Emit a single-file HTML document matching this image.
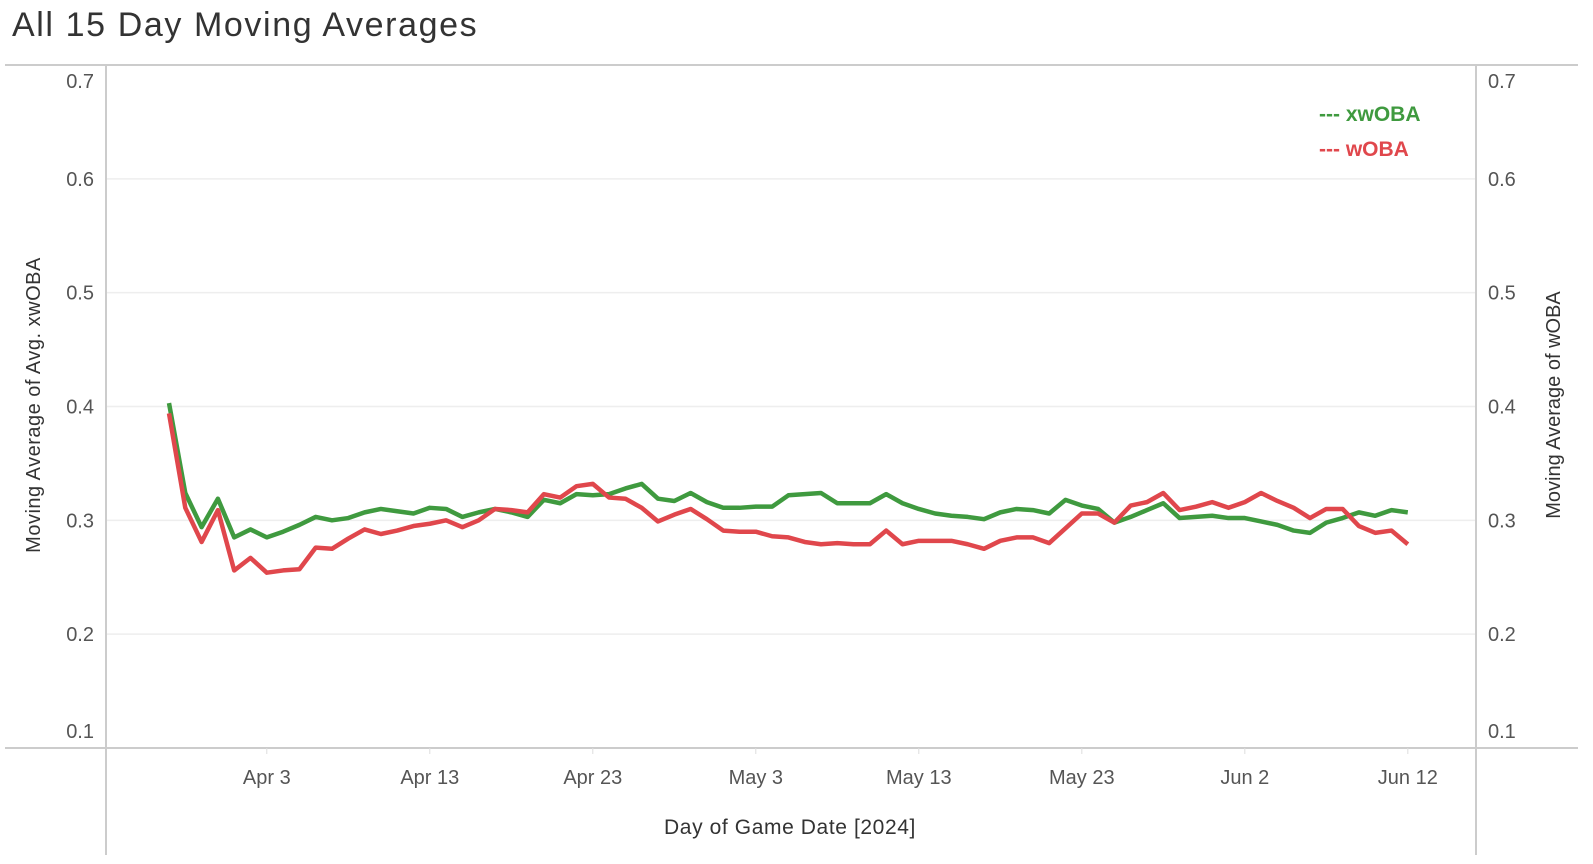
<!DOCTYPE html>
<html><head><meta charset="utf-8"><style>
body{margin:0;background:#fff;font-family:"Liberation Sans",sans-serif;}
svg text{font-family:"Liberation Sans",sans-serif;}
</style></head><body>
<svg id="chart" width="1593" height="859" xmlns="http://www.w3.org/2000/svg">
<text x="12" y="36" font-size="34" letter-spacing="1.6" fill="#333">All 15 Day Moving Averages</text>
<line x1="5" y1="65" x2="1578" y2="65" stroke="#ccc" stroke-width="2"/>
<line x1="5" y1="748" x2="1578" y2="748" stroke="#ccc" stroke-width="2"/>
<line x1="106" y1="65" x2="106" y2="855" stroke="#ccc" stroke-width="2"/>
<line x1="1476" y1="65" x2="1476" y2="855" stroke="#ccc" stroke-width="2"/>
<g id="grid"></g><g id="yl"></g><g id="yr"></g><g id="xt"></g>
<text x="790" y="834" font-size="21" letter-spacing="0.6" fill="#333" text-anchor="middle">Day of Game Date [2024]</text>
<text transform="translate(40,405) rotate(-90)" font-size="20" letter-spacing="0.5" fill="#333" text-anchor="middle">Moving Average of Avg. xwOBA</text>
<text transform="translate(1560,405) rotate(-90)" font-size="20" fill="#333" text-anchor="middle">Moving Average of wOBA</text>
<g id="lines"></g>
<text x="1319" y="121" font-size="21" font-weight="bold" fill="#3f9a3f">--- xwOBA</text>
<text x="1319" y="156" font-size="21" font-weight="bold" fill="#e0474c">--- wOBA</text>
</svg>
<script>
const days=[];for(let i=0;i<=76;i++)days.push(i);
const xwoba=[.403,.324,.294,.319,.285,.292,.285,.290,.296,.303,.300,.302,.307,.310,.308,.306,.311,.310,.303,.307,.310,.307,.303,.318,.315,.323,.322,.323,.328,.332,.319,.317,.324,.316,.311,.311,.312,.312,.322,.323,.324,.315,.315,.315,.323,.315,.310,.306,.304,.303,.301,.307,.310,.309,.306,.318,.313,.310,.298,.303,.309,.315,.302,.303,.304,.302,.302,.299,.296,.291,.289,.298,.302,.307,.304,.309,.307];
const woba=[.394,.311,.281,.309,.256,.267,.254,.256,.257,.276,.275,.284,.292,.288,.291,.295,.297,.300,.294,.300,.310,.309,.307,.323,.320,.330,.332,.320,.319,.311,.299,.305,.310,.301,.291,.290,.290,.286,.285,.281,.279,.280,.279,.279,.291,.279,.282,.282,.282,.279,.275,.282,.285,.285,.280,.293,.306,.306,.298,.313,.316,.324,.309,.312,.316,.311,.316,.324,.317,.311,.302,.310,.310,.295,.289,.291,.279];
const yTicks=[0.1,0.2,0.3,0.4,0.5,0.6,0.7];
const xTickDays=[6,16,26,36,46,56,66,76];
const xTickLabels=["Apr 3","Apr 13","Apr 23","May 3","May 13","May 23","Jun 2","Jun 12"];
const X=d=>169+d*16.3, Y=v=>748-(v-0.1)/0.6*683;
const NS="http://www.w3.org/2000/svg";
function mk(t,a,p){const e=document.createElementNS(NS,t);for(const k in a)e.setAttribute(k,a[k]);document.getElementById(p).appendChild(e);return e;}
yTicks.forEach(v=>{
 if(v>0.1&&v<0.7){const g=mk('line',{x1:107,x2:1475,y1:Y(v),y2:Y(v),stroke:'#eee','stroke-width':1.5},'grid');
 
 }
 let ty=Y(v)+7; if(v===0.7)ty=Y(v)+23; if(v===0.1)ty=Y(v)-10;
 const a=mk('text',{x:94,y:ty,'font-size':20,fill:'#555','text-anchor':'end'},'yl');a.textContent=v.toFixed(1);
 
 
 const b=mk('text',{x:1488,y:ty,'font-size':20,fill:'#555'},'yr');b.textContent=v.toFixed(1);
 
 
});
xTickDays.forEach((d,i)=>{
 mk('line',{x1:X(d),x2:X(d),y1:748,y2:754,stroke:'#ddd'},'xt');
 const t=mk('text',{x:X(d),y:784,'font-size':20,fill:'#555','text-anchor':'middle'},'xt');t.textContent=xTickLabels[i];
 
 
});
function line(vals,col,name){const p=mk('polyline',{points:vals.map((v,i)=>X(days[i])+','+Y(v)).join(' '),fill:'none',stroke:col,'stroke-width':4.5,'stroke-linejoin':'round'},'lines');
 
 }
line(xwoba,'#3f9a3f','xwoba-line');
line(woba,'#e0474c','woba-line');
</script>
</body></html>
